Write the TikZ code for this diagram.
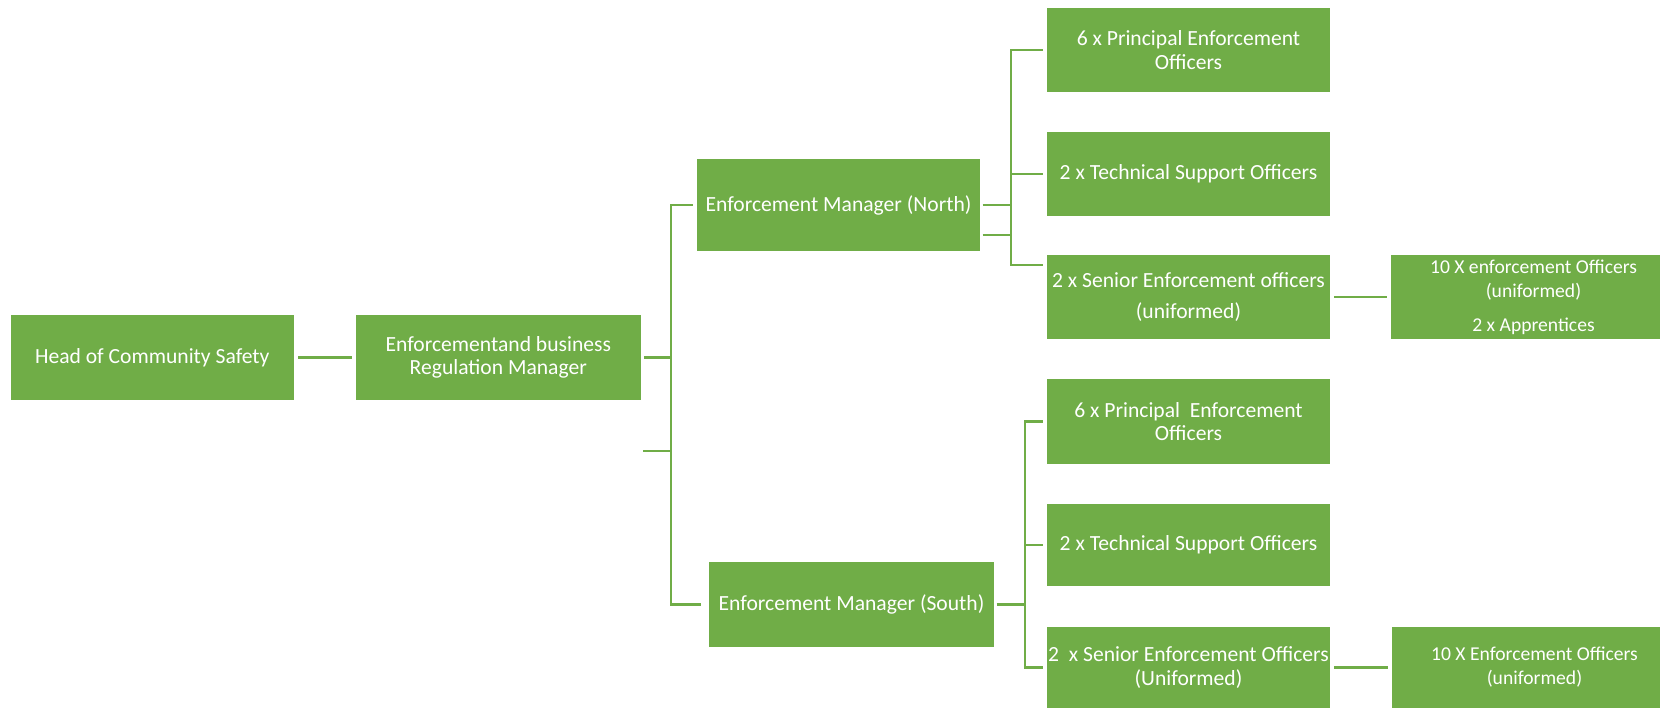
\documentclass[tikz,border=0pt]{standalone}
\usepackage{fontspec}
\setmainfont{Carlito}
\definecolor{ogreen}{HTML}{70AD47}
\begin{document}
\begin{tikzpicture}[x=1pt,y=-1pt,
  box/.style={rectangle, fill=ogreen, draw=none, text=white, align=center,
    inner sep=0pt, font=\fontsize{21.6}{23.5}\selectfont},
  smallbox/.style={box, font=\fontsize{19.6}{24}\selectfont},
  conn/.style={draw=ogreen, line width=2.4pt}]
\useasboundingbox (0,0) rectangle (1660,708);
% boxes
\node[box, minimum width=283.5, minimum height=85] (head) at (152.3,357.5) {Head of Community Safety};
\node[box, minimum width=284.5, minimum height=85] (enf) at (498.3,357.5) {Enforcementand business\\Regulation Manager};
\node[box, minimum width=283, minimum height=92] (north) at (838.5,205) {Enforcement Manager (North)};
\node[box, minimum width=285, minimum height=85] (south) at (851.5,604.5) {Enforcement Manager (South)};
\node[box, minimum width=283, minimum height=84] (nprin) at (1188.5,50.3) {6 x Principal Enforcement\\Officers};
\node[box, minimum width=283, minimum height=84] (ntech) at (1188.5,174) {2 x Technical Support Officers};
\node[box, minimum width=283, minimum height=84] (nsen) at (1188.5,297) {2 x Senior Enforcement officers\\[8pt](uniformed)};
\node[smallbox, minimum width=285, minimum height=84] (nten) at (1533.5,297) {10 X enforcement Officers\\(uniformed)\\[10pt]2 x Apprentices};
\node[box, minimum width=283, minimum height=85] (sprin) at (1188.5,421.5) {6 x Principal\ \ Enforcement\\Officers};
\node[box, minimum width=283, minimum height=82] (stech) at (1188.5,545) {2 x Technical Support Officers};
\node[box, minimum width=283, minimum height=81] (ssen) at (1188.5,667.5) {2\ \ x Senior Enforcement Officers\\(Uniformed)};
\node[smallbox, minimum width=285, minimum height=81] (sten) at (1534.5,667.5) {10 X Enforcement Officers\\(uniformed)};
% bus coordinates
\coordinate (b1) at (671,0);
\coordinate (b2) at (1011,0);
\coordinate (b3) at (1025,0);
\coordinate (stub1) at (643,451);
\coordinate (stub2) at (982.5,235);
% connectors
\draw[conn] ([xshift=4pt]head.east) -- ([xshift=-4pt]enf.west);
\draw[conn] ([xshift=3pt]enf.east) -- (enf.east -| b1);
\draw[conn] ([xshift=-4pt]north.west) -- (north.west -| b1) -- (south.west -| b1) -- ([xshift=-8pt]south.west);
\draw[conn] (stub1) -- (stub1 -| b1);
% north subtree
\draw[conn] ([xshift=2.5pt]north.east) -- (north.east -| b2);
\draw[conn] (stub2) -- (stub2 -| b2);
\draw[conn] ([xshift=-4pt]nprin.west) -- (nprin.west -| b2) -- ([yshift=-10pt]nsen.north west -| b2) -- ([xshift=-4pt,yshift=-10pt]nsen.north west);
\draw[conn] (ntech.west -| b2) -- ([xshift=-4pt]ntech.west);
\draw[conn] ([xshift=4pt]nsen.east) -- ([xshift=-4pt]nten.west);
% south subtree
\draw[conn] ([xshift=2.5pt]south.east) -- (south.east -| b3);
\draw[conn] ([xshift=-4pt]sprin.west) -- (sprin.west -| b3) -- (ssen.west -| b3) -- ([xshift=-4pt]ssen.west);
\draw[conn] (stech.west -| b3) -- ([xshift=-4pt]stech.west);
\draw[conn] ([xshift=4pt]ssen.east) -- ([xshift=-4pt]sten.west);
\end{tikzpicture}
\end{document}
